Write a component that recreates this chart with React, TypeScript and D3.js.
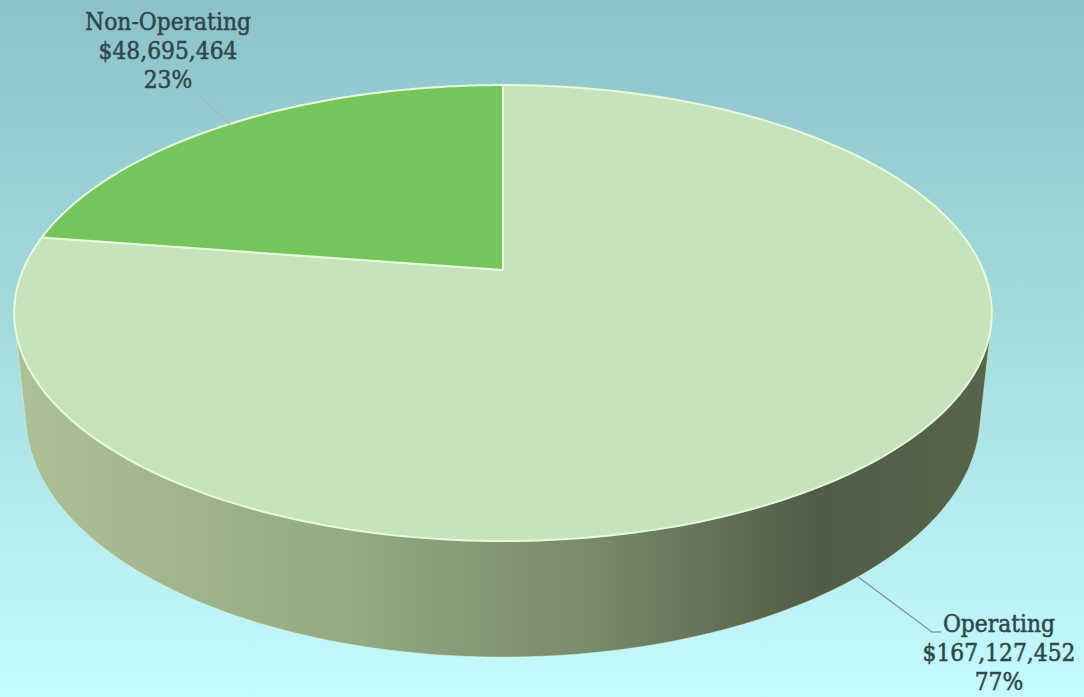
import React from "react";
import * as d3 from "d3";

const categories = ["Operating", "Non-Operating"];
const values = [167127452, 48695464];
const percentLabels = ["77%", "23%"];
const valueLabels = ["$167,127,452", "$48,695,464"];

const W = 1084;
const H = 697;
const CX = 503;
const CY = 270;
const SIN_PHI = 0.458;
const COS_PHI = Math.sqrt(1 - SIN_PHI * SIN_PHI);
const DIST = 4.71;
const FOCAL = 2261;
const THICK = 0.242;

function project(theta: number, z: number): [number, number] {
  const X = Math.sin(theta);
  const Y = Math.cos(theta);
  const depth = DIST + Y * COS_PHI - z * SIN_PHI;
  const up = Y * SIN_PHI + z * COS_PHI;
  return [CX + (FOCAL * X) / depth, CY - (FOCAL * up) / depth];
}
function projectCenter(z: number): [number, number] {
  const depth = DIST - z * SIN_PHI;
  const up = z * COS_PHI;
  return [CX, CY - (FOCAL * up) / depth];
}

function arcPts(a0: number, a1: number, z: number, n = 120): [number, number][] {
  const pts: [number, number][] = [];
  for (let i = 0; i <= n; i++) pts.push(project(a0 + ((a1 - a0) * i) / n, z));
  return pts;
}

const topColors = ["#c7e3bb", "#75c45c"];

export default function App() {
  const pie = d3.pie<number>().sort(null).startAngle(0).endAngle(2 * Math.PI);
  const arcs = pie(values);
  const line = d3.line();

  const alpha = Math.acos(1 / (DIST * COS_PHI));
  const s0 = Math.PI - alpha;
  const s1 = Math.PI + alpha;
  const sideTop = arcPts(s0, s1, 0);
  const sideBot = arcPts(s0, s1, -THICK).reverse();
  const sidePath = line([...sideTop, ...sideBot]) + "Z";

  const topPaths = arcs.map((a) => {
    const pts = [projectCenter(0), ...arcPts(a.startAngle, a.endAngle, 0)];
    return line(pts) + "Z";
  });

  const opMid = (arcs[0].startAngle + arcs[0].endAngle) / 2;
  const nopMid = (arcs[1].startAngle + arcs[1].endAngle) / 2;
  const opAnchor = project(opMid, -THICK);
  const nopAnchor = project(nopMid, 0);

  const labelFont = "'DejaVu Serif Condensed', 'DejaVu Serif', serif";
  const labelColor = "#2f474c";
  const fs = 24.3;

  const labels = [
    { x: 999, y: 632, anchor: opAnchor, elbow: [932, 632] as [number, number], end: [941, 632] as [number, number], stroke: "#86a0a2" },
    { x: 168, y: 30, anchor: nopAnchor, elbow: [201, 97] as [number, number], end: [201, 97] as [number, number], stroke: "#9fbcbe" },
  ];

  return (
    <svg width={W} height={H} style={{ position: "absolute", left: 0, top: 0 }}>
      <defs>
        <linearGradient id="bg" x1="0" y1="0" x2="0" y2="1">
          <stop offset="0" stopColor="#8dc3c8" />
          <stop offset="0.5" stopColor="#a6dde1" />
          <stop offset="1" stopColor="#c3fbfe" />
        </linearGradient>
        <linearGradient id="side" gradientUnits="userSpaceOnUse" x1="20" y1="0" x2="990" y2="0">
          <stop offset="0" stopColor="#acc096" />
          <stop offset="0.35" stopColor="#92a983" />
          <stop offset="0.6" stopColor="#76896a" />
          <stop offset="0.82" stopColor="#515d47" />
          <stop offset="1" stopColor="#58644b" />
        </linearGradient>
      </defs>
      <rect x={0} y={0} width={W} height={H} fill="url(#bg)" />
      <path d={sidePath} fill="url(#side)" stroke="#d8f5d0" strokeWidth={1} strokeOpacity={0.5} />
      {topPaths.map((d, i) => (
        <path key={categories[i]} d={d} fill={topColors[i]} stroke="#e6fadc" strokeWidth={2} strokeLinejoin="round" />
      ))}
      {labels.map((l, i) => (
        <g key={"lbl" + i}>
          <path d={line([l.anchor, l.elbow, l.end]) || ""} fill="none" stroke={l.stroke} strokeWidth={1.5} />
          <text
            x={l.x}
            y={l.y}
            textAnchor="middle"
            fontFamily={labelFont}
            fontSize={fs}
            fill={labelColor}
            stroke={labelColor}
            strokeWidth={0.5}
          >
            <tspan x={l.x} dy={0}>{categories[i]}</tspan>
            <tspan x={l.x} dy={29}>{valueLabels[i]}</tspan>
            <tspan x={l.x} dy={29}>{percentLabels[i]}</tspan>
          </text>
        </g>
      ))}
    </svg>
  );
}
